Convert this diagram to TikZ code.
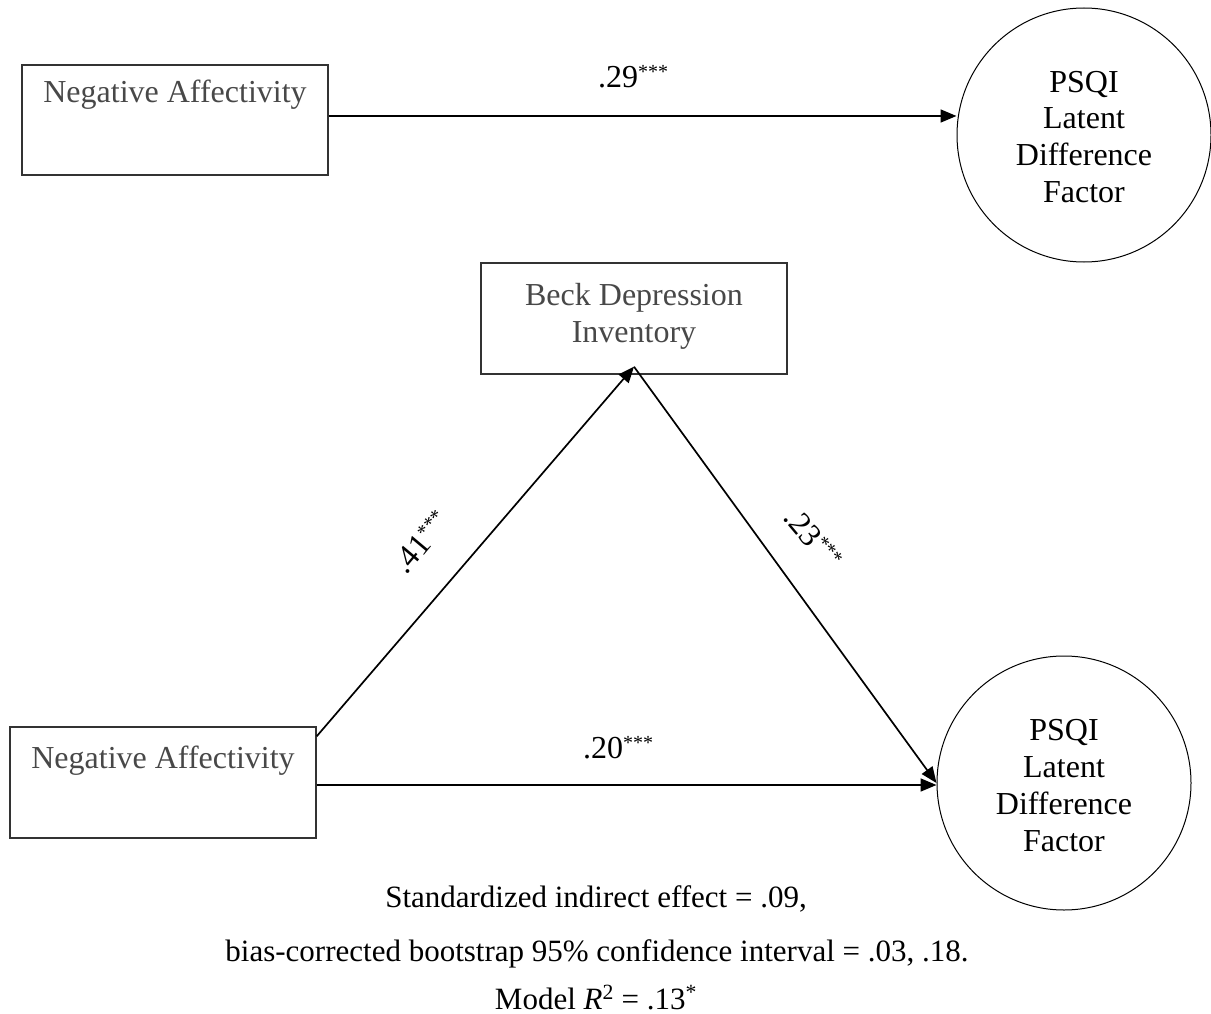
\documentclass[tikz,border=0pt]{standalone}
\usepackage{fontspec}
\setmainfont{Liberation Serif}
\usetikzlibrary{arrows.meta}
\definecolor{txtgray}{HTML}{484848}
\definecolor{boxline}{HTML}{333333}
\newcommand{\mystars}[1]{\raisebox{9pt}{\fontsize{20}{20}\selectfont #1}}
\begin{document}
\begin{tikzpicture}[x=1pt,y=-1pt,
  varbox/.style={draw=boxline, line width=1.4pt, inner sep=0pt, minimum width=306pt, align=center, text=txtgray, font=\fontsize{32}{37}\selectfont},
  latent/.style={circle, draw=black, line width=1pt, minimum size=254pt, inner sep=0pt, align=center, font=\fontsize{32}{37}\selectfont, text height=140pt, text depth=4pt},
  conn/.style={draw=black, line width=1.7pt, -{Triangle[length=16pt,width=13pt]}},
  coef/.style={font=\fontsize{32}{37}\selectfont, inner sep=0pt},
  note/.style={font=\fontsize{31}{36}\selectfont, inner sep=0pt}]
\useasboundingbox (0,0) rectangle (1211,1014);
% boxes
\node[varbox, text height=38pt, text depth=72pt] (na1) at (175,120) {Negative Affectivity};
\node[varbox, text height=41pt, text depth=70pt] (na2) at (163,782.5) {Negative Affectivity};
\node[varbox, text height=79pt, text depth=32pt] (bdi) at (634,318.5) {Beck Depression\\Inventory};
\node[latent] (lat1) at (1084,135) {PSQI\\Latent\\Difference\\Factor};
\node[latent] (lat2) at (1064,783) {PSQI\\Latent\\Difference\\Factor};
% connectors
\coordinate (s1) at ([yshift=4pt]na1.east);
\draw[conn] (s1) -- (s1 -| lat1.west);
\coordinate (s2) at ([yshift=-2.5pt]na2.east);
\draw[conn] (s2) -- (s2 -| lat2.west);
\coordinate (s3) at ([yshift=-10pt]na2.north east);
\coordinate (apex) at ([yshift=8pt]bdi.south);
\draw[conn] (s3) -- (apex);
\draw[conn] (apex) -- (lat2.west);
% coefficients
\node[coef, anchor=base west] (c1) at (598,88) {.29\mystars{***}};
\node[coef, anchor=base west] (c2) at (583,758) {.20\mystars{***}};
\node[coef, rotate=50] (c3) at (421,542) {.41\mystars{***}};
\node[coef, rotate=-50] (c4) at (813,538) {.23\mystars{***}};
% notes
\node[note, anchor=base] (n1) at (596,907) {Standardized indirect effect = .09,};
\node[note, anchor=base] (n2) at (597,961) {bias-corrected bootstrap 95\% confidence interval = .03, .18.};
\node[note, anchor=base] (n3) at (596,1009) {Model \textit{R}\textsuperscript{2} = .13\textsuperscript{*}};
\end{tikzpicture}
\end{document}
